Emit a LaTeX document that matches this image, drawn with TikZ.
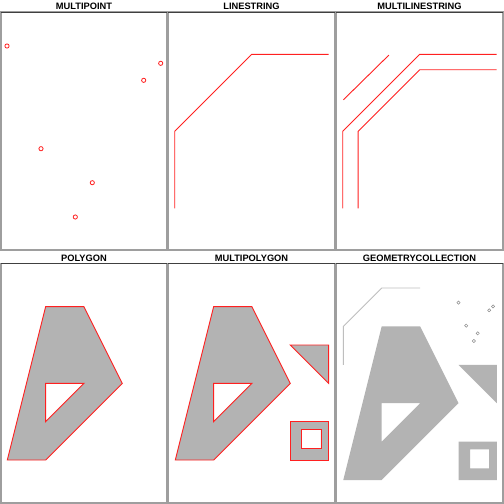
\documentclass[tikz,border=0pt]{standalone}
\usepackage{fontspec}
\setmainfont{Liberation Sans}
\definecolor{polyfill}{HTML}{B3B3B3}
\definecolor{gcline}{HTML}{BEBEBE}
\definecolor{framegray}{HTML}{9E9E9E}
\definecolor{frametop}{HTML}{404040}
\definecolor{geomred}{HTML}{FF2020}
\tikzset{
  paneltitle/.style={font=\fontsize{9.3}{10}\selectfont\bfseries, inner sep=0pt, anchor=center},
  panelframe/.style={draw=framegray, line width=1.8pt},
  paneltop/.style={draw=frametop, line width=0.9pt},
  geomline/.style={draw=geomred, line width=0.9pt},
  geompoly/.style={fill=polyfill, draw=geomred, line width=0.9pt, even odd rule},
  gcpoly/.style={fill=polyfill, even odd rule},
  gcline/.style={draw=gcline, line width=0.9pt},
  mpoint/.style={draw=geomred, line width=0.8pt},
  gcpoint/.style={draw=gray!90, line width=0.5pt},
}
\begin{document}
\begin{tikzpicture}[x=1pt,y=-1pt]
\useasboundingbox (0,0) rectangle (504,504);
\fill[white] (0,0) rectangle (504,504);
% frames
\foreach \xa/\xb in {0.9/167.1, 167.9/335.1, 335.9/503.1}{
  \foreach \ya/\yb in {12/250, 263.5/502.6}{
    \draw[panelframe] (\xa,\ya) rectangle (\xb,\yb);
    \draw[paneltop] (\xa,\ya) -- (\xb,\ya);
  }
}
% titles
\node[paneltitle] (t1) at (84,6.2) {MULTIPOINT};
\node[paneltitle] (t2) at (251.5,6.2) {LINESTRING};
\node[paneltitle] (t3) at (419.5,6.2) {MULTILINESTRING};
\node[paneltitle] (t4) at (84,258) {POLYGON};
\node[paneltitle] (t5) at (251.5,258) {MULTIPOLYGON};
\node[paneltitle] (t6) at (419.5,258) {GEOMETRYCOLLECTION};
% MULTIPOINT
\foreach \px/\py in {7/46, 160.7/63.3, 143.7/80.3, 41/148.7, 92.3/182.7, 75.3/217}{
  \draw[mpoint] (\px,\py) circle (2.1pt);
}
% LINESTRING
\begin{scope}[shift={(174.7,208.3)}, x=77pt, y=77pt]
  \draw[geomline] (0,0) -- (0,1) -- (1,2) -- (2,2);
\end{scope}
% MULTILINESTRING
\begin{scope}[shift={(342.7,208.3)}, x=77pt, y=77pt]
  \draw[geomline] (0,0) -- (0,1) -- (1,2) -- (2,2);
  \draw[geomline] (0.2,0) -- (0.2,1) -- (1,1.8) -- (2,1.8);
  \draw[geomline] (0.01,1.41) -- (0.6,1.99);
\end{scope}
% POLYGON
\begin{scope}[shift={(7.3,460)}, x=38.33pt, y=38.33pt]
  \path[geompoly] (0,0) -- (1,0) -- (3,2) -- (2,4) -- (1,4) -- cycle
                  (1,1) -- (1,2) -- (2,2) -- cycle;
\end{scope}
% MULTIPOLYGON
\begin{scope}[shift={(175.3,460)}, x=38.33pt, y=38.33pt]
  \path[geompoly] (0,0) -- (1,0) -- (3,2) -- (2,4) -- (1,4) -- cycle
                  (1,1) -- (1,2) -- (2,2) -- cycle;
  \path[geompoly] (3,3) -- (4,3) -- (4,2) -- cycle;
  \path[geompoly] (3,0) rectangle (4,1) (3.3,0.3) rectangle (3.8,0.8);
\end{scope}
% GEOMETRYCOLLECTION
\begin{scope}[shift={(343.3,480)}, x=38.4pt, y=38.4pt]
  \path[gcpoly] (0,0) -- (1,0) -- (3,2) -- (2,4) -- (1,4) -- cycle
                (1,1) -- (1,2) -- (2,2) -- cycle;
  \path[gcpoly] (3,3) -- (4,3) -- (4,2) -- cycle;
  \path[gcpoly] (3,0) rectangle (4,1) (3.3,0.3) rectangle (3.8,0.8);
  \draw[gcline] (0,3) -- (0,4) -- (1,5) -- (2,5);
  \foreach \qx/\qy in {3.0/4.62, 3.8/4.42, 3.9/4.52, 3.2/4.02, 3.5/3.82, 3.4/3.62}{
    \draw[gcpoint] (\qx,\qy) circle (1.6pt);
  }
\end{scope}
\end{tikzpicture}
\end{document}
